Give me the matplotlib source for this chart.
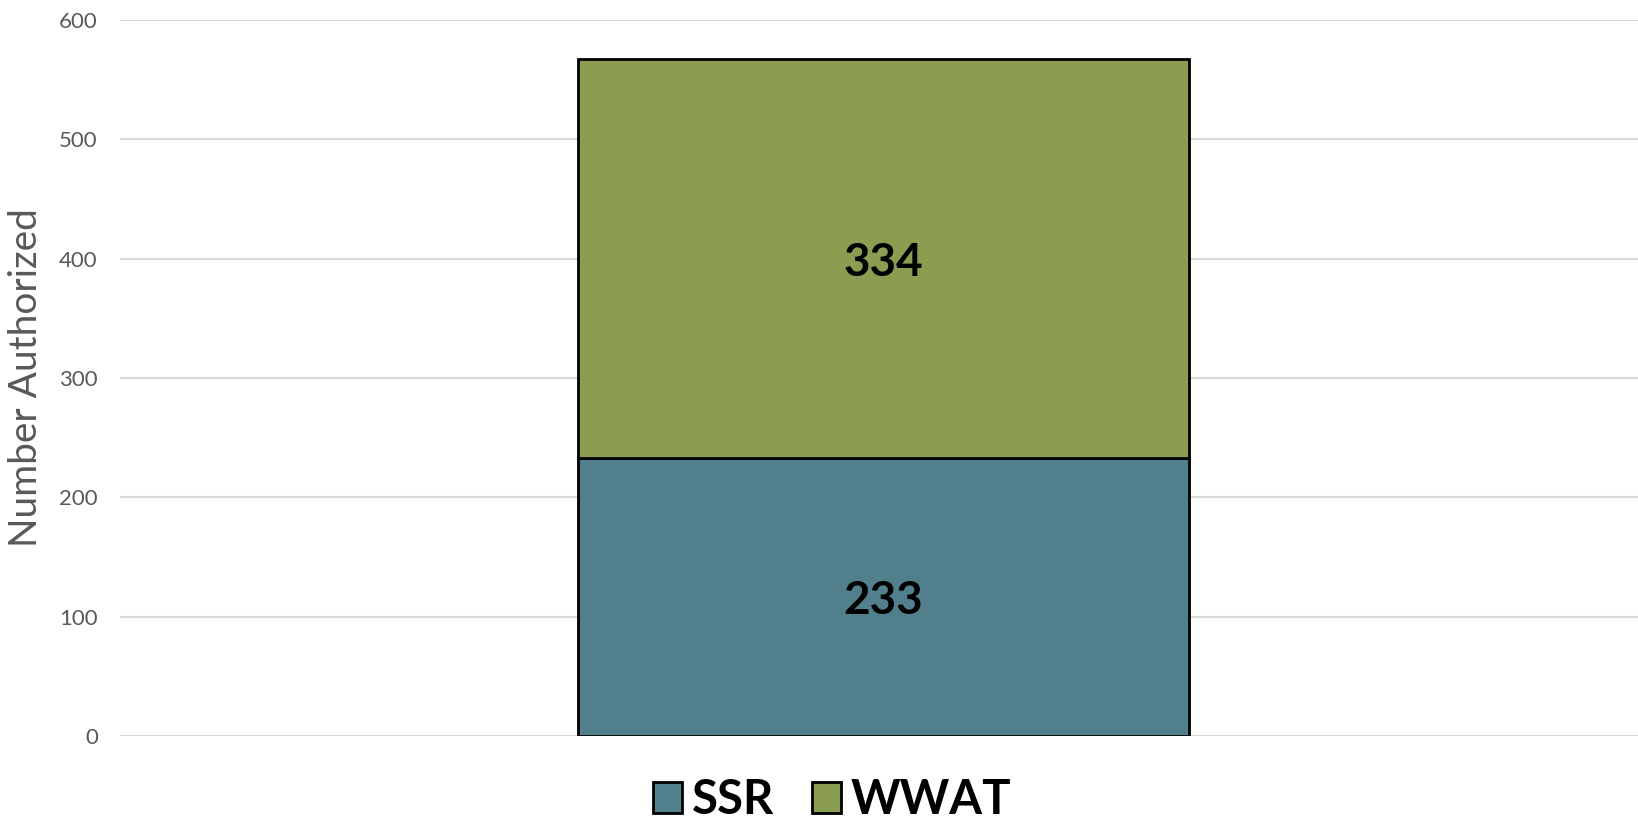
import matplotlib
matplotlib.use("Agg")
import matplotlib.pyplot as plt
from matplotlib.patches import Patch

# data
categories = [""]
series_names = ["SSR", "WWAT"]
ssr = [233]
wwat = [334]
colors = ["#51808C", "#8A9D50"]
yticks = [0, 100, 200, 300, 400, 500, 600]

plt.rcParams['font.family'] = ['Lato', 'DejaVu Sans']

fig = plt.figure(figsize=(16.38, 8.26), dpi=100)
ax = fig.add_axes([120 / 1638, 90 / 826, 1518 / 1638, 716 / 826])

x = list(range(len(categories)))
width = 0.4025
ax.bar(x, ssr, width=width, color=colors[0], edgecolor="black", linewidth=2, zorder=3)
ax.bar(x, wwat, width=width, bottom=ssr, color=colors[1], edgecolor="black",
       linewidth=2, zorder=3)

# value labels
for i in x:
    ax.text(i, ssr[i] / 2, str(ssr[i]), ha="center", va="center_baseline",
            fontsize=33, fontweight="bold", color="black", zorder=4)
    ax.text(i, ssr[i] + wwat[i] / 2, str(wwat[i]), ha="center", va="center_baseline",
            fontsize=33, fontweight="bold", color="black", zorder=4)

ax.set_xlim(-0.503, 0.497)
ax.set_ylim(0, 600)
ax.set_yticks(yticks)
ax.set_xticks([])
ax.tick_params(axis="y", length=0, pad=16, labelsize=16, labelcolor="#595959")
ax.grid(axis="y", color="#D9D9D9", linewidth=1.5, zorder=0)
for s in ax.spines.values():
    s.set_visible(False)

ax.set_ylabel("Number Authorized", fontsize=28, color="#595959")
ax.yaxis.set_label_coords(-0.05, 0.5)

handles = [Patch(facecolor=c, edgecolor="black", linewidth=2) for c in colors]
fig.legend(handles, series_names, loc="lower center", bbox_to_anchor=(0.508, -0.047),
           ncol=2, frameon=False, prop={"size": 34, "weight": "bold"},
           handlelength=0.62, handleheight=0.62, handletextpad=0.2, columnspacing=0.8)

fig.savefig("out.png", dpi=100)
